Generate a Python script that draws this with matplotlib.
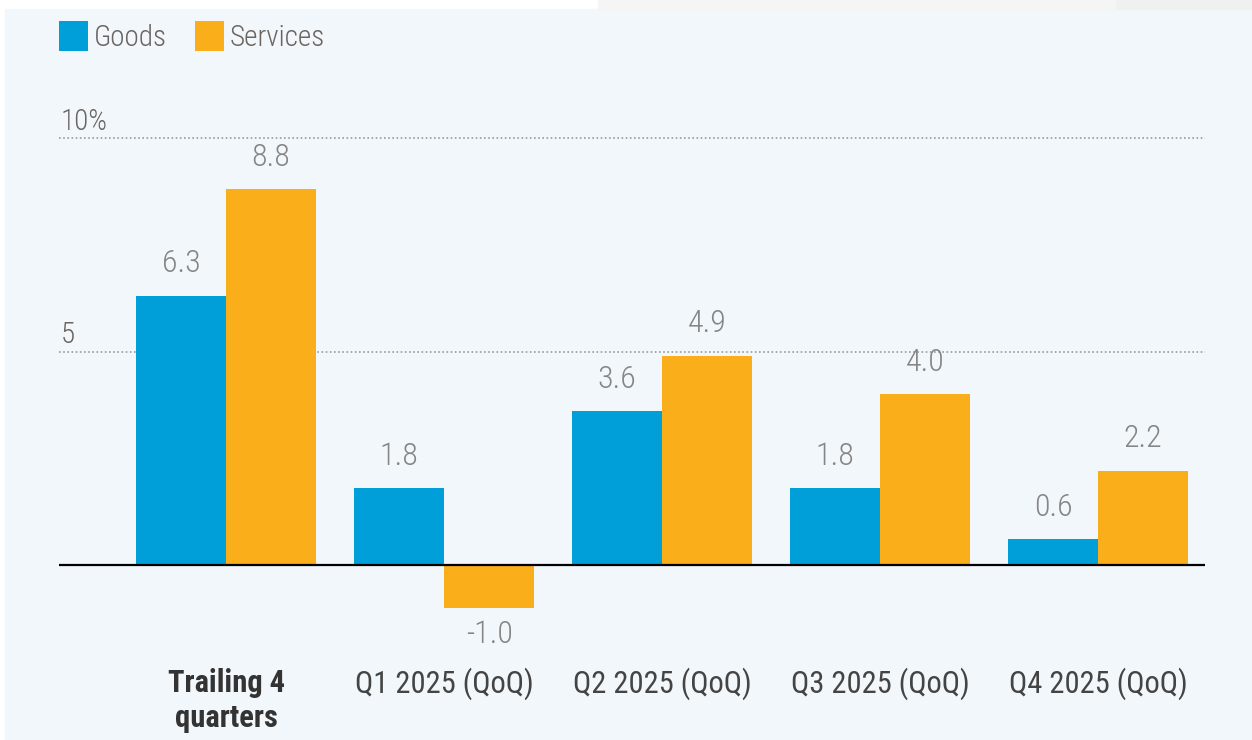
import numpy as np
import matplotlib
matplotlib.use("Agg")
import matplotlib.pyplot as plt
from matplotlib.patches import Rectangle

# quarterly growth, goods vs services
categories = ["Trailing 4\nquarters", "Q1 2025 (QoQ)", "Q2 2025 (QoQ)",
              "Q3 2025 (QoQ)", "Q4 2025 (QoQ)"]
goods = [6.3, 1.8, 3.6, 1.8, 0.6]
services = [8.8, -1.0, 4.9, 4.0, 2.2]
grid_vals = [5, 10]
grid_labels = ["5", "10%"]

plt.rcParams['font.family'] = ['Roboto Condensed', 'Archivo Narrow', 'DejaVu Sans']

BLUE = "#009fda"
ORANGE = "#f9ae1a"
PANEL = "#f2f7fb"
TXT = "#6b6560"
VAL = "#858585"

W, H = 1252, 740
fig = plt.figure(figsize=(W / 100, H / 100), dpi=100, facecolor="white")

# background panel and the page strip above it
fig.add_artist(Rectangle((5 / W, 0), 1 - 5 / W, (H - 9) / H,
                         transform=fig.transFigure, color=PANEL, zorder=0))
fig.add_artist(Rectangle((598 / W, (H - 9) / H), (1116 - 598) / W, 9 / H,
                         transform=fig.transFigure, color="#f5f5f5", zorder=0))
fig.add_artist(Rectangle((1116 / W, (H - 9) / H), 1 - 1116 / W, 9 / H,
                         transform=fig.transFigure, color="#eff1f0", zorder=0))

ax = fig.add_axes([59 / W, 0, (1205 - 59) / W, (H - 80) / H])
ax.set_facecolor("none")
for s in ax.spines.values():
    s.set_visible(False)
ax.set_xticks([])
ax.set_yticks([])
ax.set_xlim(-0.766, 4.49)
ax.set_ylim(-4.10, 11.36)

x = np.arange(len(categories))
bw = 0.413
b1 = ax.bar(x - bw / 2, goods, bw, color=BLUE, label="Goods", zorder=2)
b2 = ax.bar(x + bw / 2, services, bw, color=ORANGE, label="Services", zorder=2)

for v, lab in zip(grid_vals, grid_labels):
    ax.axhline(v, color="#9a9a9a", lw=1.2, ls=(0, (1, 1.5)), zorder=1)
    ax.annotate(lab, (ax.get_xlim()[0], v), xytext=(1, 6), textcoords="offset points",
                ha="left", va="baseline", fontsize=21, color=TXT, fontweight=300)
ax.axhline(0, color="black", lw=1.6, zorder=3)

# value labels on the bars
for bars, vals in ((b1, goods), (b2, services)):
    for r, v in zip(bars, vals):
        cx = r.get_x() + r.get_width() / 2
        if v >= 0:
            ax.annotate(f"{v:.1f}", (cx, v), xytext=(0, 17), textcoords="offset points",
                        ha="center", va="baseline", fontsize=23, color=VAL, fontweight=300)
        else:
            ax.annotate(f"{v:.1f}", (cx, v), xytext=(0, -9), textcoords="offset points",
                        ha="center", va="top", fontsize=23, color=VAL, fontweight=300)

# category labels under the axis
for i, c in enumerate(categories):
    bold = i == 0
    ax.text(i, -2.41, c, ha="center", va="top", fontsize=22, linespacing=1.22,
            color="#333333" if bold else "#444444",
            fontweight="bold" if bold else "normal")

fig.legend(handles=[b1, b2], loc="upper left", bbox_to_anchor=(59 / W, 1 - 21 / H),
           ncol=2, frameon=False, handlelength=1.0, handleheight=1.2,
           handletextpad=0.2, columnspacing=0.95, borderpad=0, borderaxespad=0,
           labelcolor=TXT, prop={"size": 21, "weight": 300})

fig.savefig("out.png", dpi=100, facecolor="white")
